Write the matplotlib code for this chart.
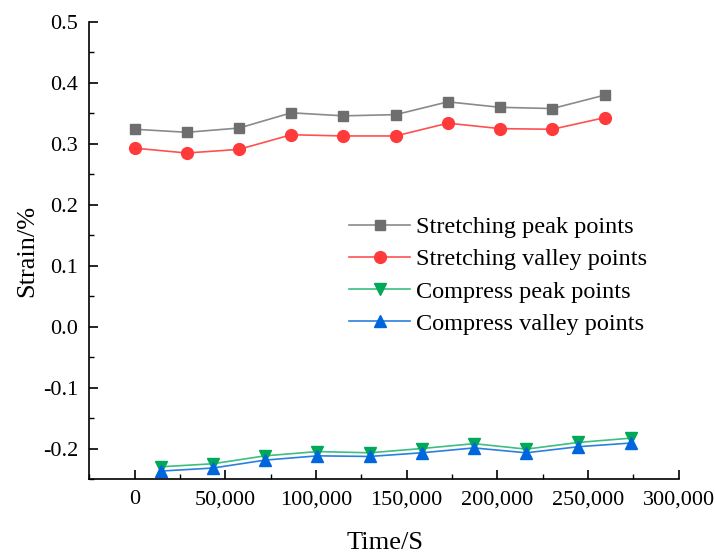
import matplotlib.pyplot as plt
import numpy as np

plt.rcParams['font.family'] = ['Liberation Serif', 'DejaVu Serif']

# sampling times (s)
stretch_time = [0, 28800, 57600, 86400, 115200, 144000, 172800, 201600, 230400, 259200]
compress_time = [14400, 43200, 72000, 100800, 129600, 158400, 187200, 216000, 244800, 273600]

# strain (%)
stretch_peak = [0.324, 0.319, 0.326, 0.351, 0.346, 0.348, 0.369, 0.360, 0.358, 0.380]
stretch_valley = [0.293, 0.285, 0.291, 0.315, 0.313, 0.313, 0.334, 0.325, 0.324, 0.343]
compress_peak = [-0.230, -0.225, -0.212, -0.205, -0.207, -0.200, -0.192, -0.201, -0.190, -0.183]
compress_valley = [-0.237, -0.232, -0.219, -0.212, -0.213, -0.207, -0.199, -0.207, -0.197, -0.191]

fig = plt.figure(figsize=(7.15, 5.56), dpi=100)
ax = fig.add_axes([0.1249, 0.1385, 0.949 - 0.1249, 0.9604 - 0.1385])

ax.plot(stretch_time, stretch_peak, color="#8a8a8a", lw=1.2, marker="s", ms=7.5,
        mfc="#6e6e6e", mec="#6e6e6e", label="Stretching peak points")
ax.plot(stretch_time, stretch_valley, color="#ff5050", lw=1.2, marker="o", ms=8.5,
        mfc="#ff3a3a", mec="#ff3a3a", label="Stretching valley points")
ax.plot(compress_time, compress_peak, color="#3cbf7f", lw=1.2, marker="v", ms=9,
        mfc="#00a859", mec="#00a859", label="Compress peak points")
ax.plot(compress_time, compress_valley, color="#2a7fe0", lw=1.2, marker="^", ms=9,
        mfc="#0066dd", mec="#0066dd", label="Compress valley points")

ax.set_xlim(-25000, 300000)
ax.set_ylim(-0.25, 0.5)
ax.set_xticks(np.arange(0, 300001, 50000))
ax.set_xticks(np.arange(-25000, 300001, 25000), minor=True)
ax.set_yticks(np.arange(-0.2, 0.51, 0.1))
ax.set_yticks(np.arange(-0.25, 0.51, 0.05), minor=True)
ax.set_xticklabels(["0", "50,000", "100,000", "150,000", "200,000", "250,000", "300,000"])
ax.set_yticklabels(["-0.2", "-0.1", "0.0", "0.1", "0.2", "0.3", "0.4", "0.5"])

for side in ("top", "right"):
    ax.spines[side].set_visible(False)
for side in ("left", "bottom"):
    ax.spines[side].set_linewidth(1.2)

ax.tick_params(which="major", direction="in", length=6.5, width=1.2, labelsize=16, pad=8)
ax.tick_params(which="minor", direction="in", length=3.6, width=1.0)

ax.set_xlabel("Time/S", fontsize=19, va="center")
ax.set_ylabel("Strain/%", fontsize=19, va="center")
ax.xaxis.set_label_coords(0.502, -0.140)
ax.yaxis.set_label_coords(-0.106, 0.5)

ax.legend(loc="upper left", bbox_to_anchor=(0.441, 0.575), frameon=False, fontsize=17.5,
          handlelength=2.5, handletextpad=0.25, labelspacing=0.42,
          borderaxespad=0, borderpad=0)

fig.savefig("out.png", dpi=100)
